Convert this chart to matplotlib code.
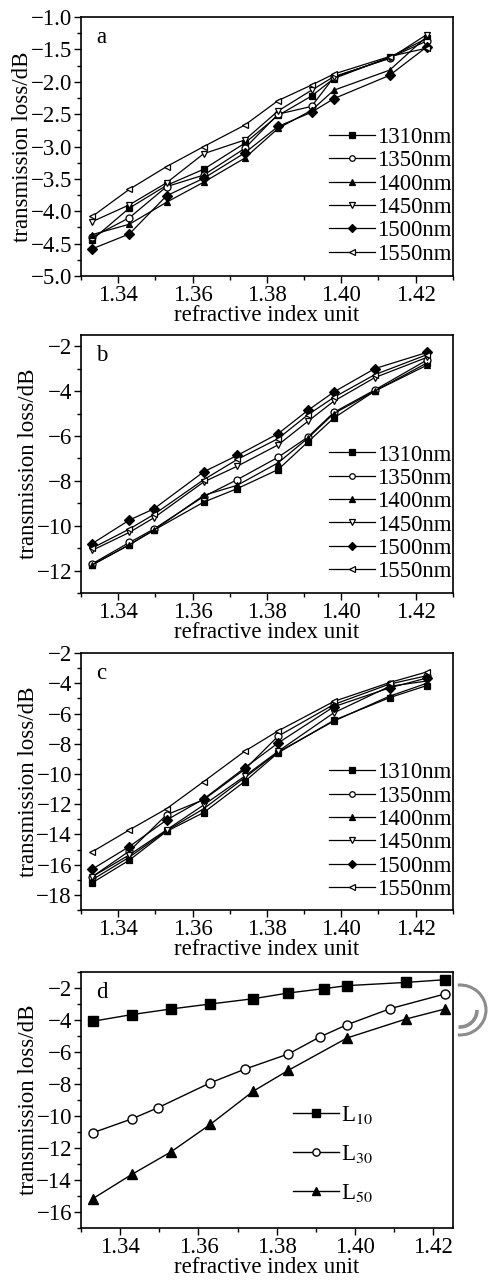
import matplotlib
matplotlib.use("Agg")
import matplotlib.pyplot as plt
from matplotlib.ticker import MultipleLocator, FuncFormatter
from matplotlib.patches import Arc

plt.rcParams['font.family'] = ['Liberation Serif', 'DejaVu Serif']
plt.rcParams['mathtext.fontset'] = 'stix'

wavelengths = ["1310nm", "1350nm", "1400nm", "1450nm", "1500nm", "1550nm"]

# panel a
x_a = [1.333, 1.343, 1.353, 1.363, 1.374, 1.383, 1.392, 1.398, 1.413, 1.423]
a_1310 = [-4.44, -3.95, -3.60, -3.35, -2.95, -2.52, -2.22, -1.95, -1.62, -1.33]
a_1350 = [-4.40, -4.10, -3.62, -3.44, -3.03, -2.50, -2.38, -1.93, -1.63, -1.37]
a_1400 = [-4.36, -4.20, -3.86, -3.55, -3.18, -2.72, -2.44, -2.13, -1.82, -1.30]
a_1450 = [-4.16, -3.90, -3.56, -3.11, -2.90, -2.45, -2.13, -1.92, -1.64, -1.27]
a_1500 = [-4.58, -4.35, -3.76, -3.49, -3.10, -2.69, -2.47, -2.26, -1.90, -1.46]
a_1550 = [-4.08, -3.66, -3.31, -3.00, -2.67, -2.29, -2.05, -1.88, -1.61, -1.48]

# panel b
x_b = [1.333, 1.343, 1.3496, 1.363, 1.372, 1.383, 1.391, 1.398, 1.409, 1.423]
b_1310 = [-11.75, -10.85, -10.20, -8.95, -8.35, -7.50, -6.27, -5.20, -4.00, -2.75]
b_1350 = [-11.70, -10.75, -10.15, -8.70, -7.95, -6.95, -6.05, -4.95, -3.95, -2.62]
b_1400 = [-11.75, -10.85, -10.20, -8.65, -8.20, -7.20, -6.10, -5.00, -4.00, -2.85]
b_1450 = [-11.10, -10.30, -9.65, -8.05, -7.35, -6.40, -5.35, -4.45, -3.40, -2.50]
b_1500 = [-10.80, -9.75, -9.25, -7.60, -6.87, -5.90, -4.86, -4.04, -3.00, -2.28]
b_1550 = [-11.00, -10.15, -9.50, -7.95, -7.05, -6.12, -5.06, -4.28, -3.27, -2.38]

# panel c
x_c = [1.333, 1.343, 1.353, 1.363, 1.374, 1.383, 1.398, 1.413, 1.423]
c_1310 = [-17.20, -15.70, -13.80, -12.55, -10.50, -8.60, -6.45, -4.95, -4.15]
c_1350 = [-16.80, -15.10, -12.70, -11.70, -9.70, -7.50, -5.40, -4.05, -3.50]
c_1400 = [-17.00, -15.50, -13.75, -12.30, -10.25, -8.55, -6.50, -4.85, -4.00]
c_1450 = [-16.80, -15.35, -13.70, -12.05, -10.15, -8.50, -5.95, -4.20, -3.85]
c_1500 = [-16.30, -14.80, -13.05, -11.65, -9.60, -7.95, -5.55, -4.30, -3.65]
c_1550 = [-15.15, -13.70, -12.30, -10.50, -8.50, -7.15, -5.20, -3.95, -3.25]

# panel d
x_l10 = [1.333, 1.343, 1.353, 1.363, 1.374, 1.383, 1.392, 1.398, 1.413, 1.423]
l10 = [-4.08, -3.66, -3.31, -3.00, -2.67, -2.31, -2.04, -1.85, -1.65, -1.48]
x_l30 = [1.333, 1.343, 1.3496, 1.363, 1.372, 1.383, 1.391, 1.398, 1.409, 1.423]
l30 = [-11.05, -10.18, -9.49, -7.93, -7.06, -6.12, -5.06, -4.29, -3.29, -2.37]
x_l50 = [1.333, 1.343, 1.353, 1.363, 1.374, 1.383, 1.398, 1.413, 1.423]
l50 = [-15.17, -13.65, -12.24, -10.53, -8.45, -7.14, -5.12, -3.94, -3.31]
length_labels = [r"L$_{10}$", r"L$_{30}$", r"L$_{50}$"]

markers = [('s', 'black'), ('o', 'white'), ('^', 'black'),
           ('v', 'white'), ('D', 'black'), ('<', 'white')]

FS = 16.5

fig = plt.figure(figsize=(4.88, 12.81), dpi=100)


def minus_fmt(fmt):
    return FuncFormatter(lambda v, pos: (fmt % v).replace('-', '\u2212'))


def style_axes(ax, ylim, ymajor, yminor, fmt, xlim=(1.33, 1.43)):
    ax.set_xlim(*xlim)
    ax.set_ylim(*ylim)
    ax.xaxis.set_major_locator(MultipleLocator(0.02))
    ax.xaxis.set_minor_locator(MultipleLocator(0.01))
    ax.yaxis.set_major_locator(MultipleLocator(ymajor))
    ax.yaxis.set_minor_locator(MultipleLocator(yminor))
    ax.yaxis.set_major_formatter(minus_fmt(fmt))
    ax.xaxis.set_major_formatter(minus_fmt('%.2f'))
    ax.tick_params(which='both', direction='out', labelsize=FS, width=1)
    ax.tick_params(which='major', length=5, pad=1.5)
    ax.tick_params(which='minor', length=3)
    for s in ax.spines.values():
        s.set_linewidth(1.2)
    ax.set_xlabel('refractive index unit', fontsize=FS, labelpad=-1)
    ax.set_ylabel('transmission loss/dB', fontsize=FS, labelpad=-2)


panels = [
    ('a', [0.166, 0.7845, 0.762, 0.2022], x_a,
     [a_1310, a_1350, a_1400, a_1450, a_1500, a_1550], (-5, -1), 0.5, 0.25, '%.1f'),
    ('b', [0.166, 0.5371, 0.762, 0.2014], x_b,
     [b_1310, b_1350, b_1400, b_1450, b_1500, b_1550], (-13, -1.5), 2, 1, '%d'),
    ('c', [0.166, 0.2896, 0.762, 0.2006], x_c,
     [c_1310, c_1350, c_1400, c_1450, c_1500, c_1550], (-19, -2), 2, 1, '%d'),
]

for letter, rect, xs, series, ylim, ymaj, ymin, fmt in panels:
    ax = fig.add_axes(rect)
    for ys, (m, fc), lab in zip(series, markers, wavelengths):
        ax.plot(xs, ys, color='black', lw=0.9, marker=m, markersize=5,
                markerfacecolor=fc, markeredgecolor='black', markeredgewidth=0.9,
                label=lab)
    style_axes(ax, ylim, ymaj, ymin, fmt)
    ax.text(0.04, 0.96, letter, transform=ax.transAxes, fontsize=FS, va='top')
    ax.legend(loc='upper left', bbox_to_anchor=(0.637, 0.62), frameon=False,
              fontsize=FS, borderpad=0, labelspacing=0.1, handlelength=2.0,
              handletextpad=0.1, markerscale=0.8)

# panel d
ax = fig.add_axes([0.166, 0.0414, 0.762, 0.1998])
for xs, ys, (m, fc), lab in zip([x_l10, x_l30, x_l50], [l10, l30, l50],
                                markers[:3], length_labels):
    ax.plot(xs, ys, color='black', lw=1.0, marker=m, markersize=6.5,
            markerfacecolor=fc, markeredgecolor='black', markeredgewidth=1,
            label=lab, clip_on=False)
style_axes(ax, (-17, -1), 2, 1, '%d', xlim=(1.33, 1.425))
ax.text(0.04, 0.96, 'd', transform=ax.transAxes, fontsize=FS, va='top')
ax.legend(loc='upper left', bbox_to_anchor=(0.54, 0.53), frameon=False,
          fontsize=FS, borderpad=0, labelspacing=0.75, handlelength=2.0,
          handletextpad=0.1, markerscale=0.8)

# grey bracket at the right of panel d
fig.patches.append(Arc((4.60, 2.71), 0.52, 0.50, theta1=-95, theta2=95,
                       transform=fig.dpi_scale_trans, color='#8c8c8c', lw=2.2))
fig.patches.append(Arc((4.60, 2.71), 0.34, 0.34, theta1=-95, theta2=0,
                       transform=fig.dpi_scale_trans, color='#8c8c8c', lw=2.6))

fig.savefig('out.png', dpi=100)
